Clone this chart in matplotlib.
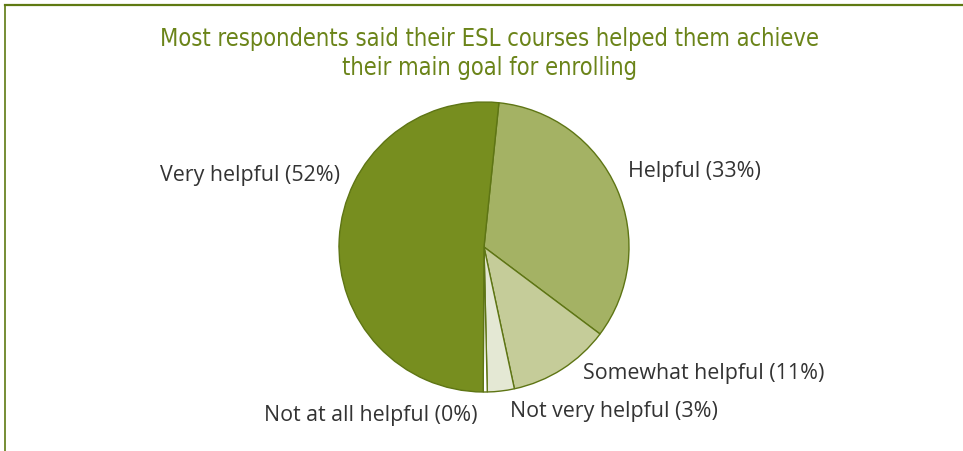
import matplotlib.pyplot as plt
from matplotlib.lines import Line2D

# data (clockwise from just right of top)
categories = ["Helpful", "Somewhat helpful", "Not very helpful",
              "Not at all helpful", "Very helpful"]
shares = [33.6, 11.4, 3.0, 0.45, 51.55]      # slice sizes
shown_pct = [33, 11, 3, 0, 52]               # percentages printed in labels
colors = ["#a4b264", "#c5cc99", "#e4e8d4", "#ffffff", "#778e1f"]

W, H = 963, 452
fig = plt.figure(figsize=(W / 100, H / 100), dpi=100)
ax = fig.add_axes([0, 0, 1, 1])

ax.pie(shares, colors=colors, startangle=84.1, counterclock=False,
       center=(484, H - 248), radius=145, frame=True,
       wedgeprops=dict(edgecolor="#5e7514", linewidth=1.0))
ax.set_xlim(0, W)
ax.set_ylim(0, H)
ax.set_aspect("equal")
ax.axis("off")

# frame lines (top and left)
olive = "#5f7a12"
fig.add_artist(Line2D([5 / W, 1], [1 - 6 / H, 1 - 6 / H], color=olive, lw=1.6,
                      transform=fig.transFigure))
fig.add_artist(Line2D([5 / W, 5 / W], [0, 1 - 6 / H], color=olive, lw=1.2,
                      transform=fig.transFigure))

title_kw = dict(ha="center", va="center", fontsize=17, color="#6b8419",
                family="DejaVu Sans", fontstretch="condensed")
ax.text(489, H - 39, "Most respondents said their ESL courses helped them achieve",
        **title_kw)
ax.text(489, H - 68, "their main goal for enrolling", **title_kw)

lab_font = ["Open Sans", "DejaVu Sans"]
labels = [f"{c} ({p}%)" for c, p in zip(categories, shown_pct)]
# label anchor points (x, y, ha)
spots = [(628, 172, "left"), (583, 374, "left"), (510, 412, "left"),
         (477, 416, "right"), (340, 176, "right")]
for lab, (x, y, ha) in zip(labels, spots):
    ax.text(x, H - y, lab, ha=ha, va="center", fontsize=15.4,
            color="#333333", family=lab_font)

fig.savefig("out.png", dpi=100, facecolor="white")
